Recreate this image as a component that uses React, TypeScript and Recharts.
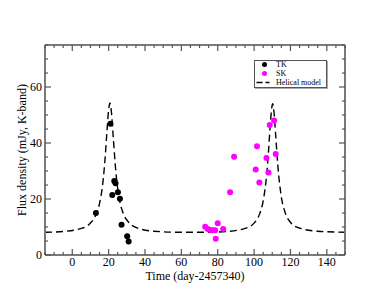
import { ComposedChart, XAxis, YAxis, Scatter, Line, Legend, Label } from "recharts";

// TK photometry (black)
const tkTime = [13.0, 21.0, 22.0, 23.1, 23.8, 25.1, 26.2, 27.1, 30.2, 31.0];
const tkFlux = [15.0, 46.9, 21.4, 26.4, 25.6, 22.4, 20.1, 10.8, 6.7, 4.8];

// SK photometry (magenta)
const skTime = [73.1, 74.5, 75.8, 77.3, 78.6, 78.9, 80.0, 83.0, 86.8, 89.0, 100.9, 101.6, 102.9, 106.8, 107.9, 108.6, 111.0, 111.9];
const skFlux = [10.1, 9.3, 8.9, 8.8, 8.8, 5.8, 11.3, 9.3, 22.4, 35.1, 30.5, 38.8, 25.9, 34.6, 29.5, 46.4, 48.0, 36.1];

// helical model curve
const modelTime = [-15, -5, 5, 10, 13, 15, 17, 18, 19, 20, 20.7, 21.5, 22.5, 24, 26, 28, 31, 36, 45, 60, 75, 85, 95, 100, 103, 105, 107, 108, 109, 110.2, 111, 112, 113, 115, 117, 120, 125, 135, 150];
const modelFlux = [8.1, 8.4, 9.5, 11.4, 14.3, 18.4, 26.9, 34.1, 43.4, 51.9, 54.3, 51.2, 42.4, 29.5, 19.6, 14.9, 11.7, 9.6, 8.5, 8.1, 8.1, 8.4, 9.5, 11.4, 14.6, 19.3, 29.3, 37.7, 47.5, 54.0, 50.7, 41.6, 32.4, 20.7, 15.3, 11.7, 9.6, 8.5, 8.1];

const xMajorTicks = [0, 20, 40, 60, 80, 100, 120, 140];
const xMinorTicks = [-15, -10, -5, 0, 5, 10, 15, 20, 25, 30, 35, 40, 45, 50, 55, 60, 65, 70, 75, 80, 85, 90, 95, 100, 105, 110, 115, 120, 125, 130, 135, 140, 145, 150];
const yMajorTicks = [0, 20, 40, 60];
const yMinorTicks = [0, 5, 10, 15, 20, 25, 30, 35, 40, 45, 50, 55, 60, 65, 70, 75];

const tkData = tkTime.map((x, i) => ({ x, y: tkFlux[i] }));
const skData = skTime.map((x, i) => ({ x, y: skFlux[i] }));
const modelData = modelTime.map((x, i) => ({ x, y: modelFlux[i] }));

const FONT = "'Liberation Serif', 'Times New Roman', serif";
const FRAME = "#7a7a7a";
const TICK = "#555";
const MAGENTA = "#ff00ff";
const X_DOMAIN = [-15, 150];
const Y_DOMAIN = [0, 75];
const GAP = 3; // tickMargin used on every axis, so the tick can find the frame edge
const MAJOR_LEN = 6;
const MINOR_LEN = 3;

// inward ticks drawn by hand: tickSize is 0, so label pos = edge +/- GAP
const makeTick = (side: "bottom" | "top" | "left" | "right", majors: number[], labelled: boolean) => (props: any) => {
  const { x, y, payload } = props;
  const major = majors.includes(payload.value);
  const len = major ? MAJOR_LEN : MINOR_LEN;
  let line;
  let label = null;
  if (side === "bottom") {
    const edge = y - GAP;
    line = <line x1={x} x2={x} y1={edge} y2={edge - len} stroke={TICK} strokeWidth={1.2} />;
    if (labelled && major)
      label = <text x={x} y={y} dy="0.66em" textAnchor="middle" fontSize={12} fontFamily={FONT} fill="#000">{payload.value}</text>;
  } else if (side === "top") {
    const edge = y + GAP;
    line = <line x1={x} x2={x} y1={edge} y2={edge + len} stroke={TICK} strokeWidth={1.2} />;
  } else if (side === "left") {
    const edge = x + GAP;
    line = <line x1={edge} x2={edge + len} y1={y} y2={y} stroke={TICK} strokeWidth={1.2} />;
    if (labelled && major)
      label = <text x={x} y={y} dy="0.35em" textAnchor="end" fontSize={12} fontFamily={FONT} fill="#000">{payload.value}</text>;
  } else {
    const edge = x - GAP;
    line = <line x1={edge} x2={edge - len} y1={y} y2={y} stroke={TICK} strokeWidth={1.2} />;
  }
  return <g>{line}{label}</g>;
};

const dotShape = (color: string) => (props: any) =>
  <circle cx={props.cx} cy={props.cy} r={3} fill={color} />;

const YTitle = (props: any) => {
  const { x, y, height } = props.viewBox;
  const cx = x + 22;
  const cy = y + height / 2;
  return (
    <text x={cx} y={cy} transform={`rotate(-90 ${cx} ${cy})`} textAnchor="middle" dominantBaseline="central"
      fontSize={12} fontFamily={FONT} fill="#000">
      Flux density (mJy, K-band)
    </text>
  );
};

const XTitle = (props: any) => {
  const { x, y, width } = props.viewBox;
  return (
    <text x={x + width / 2} y={y + 20.5} textAnchor="middle" dominantBaseline="central"
      fontSize={12} fontFamily={FONT} fill="#000">
      Time (day-2457340)
    </text>
  );
};

const legendItems = [
  { label: "TK", kind: "dot", color: "#000" },
  { label: "SK", kind: "dot", color: MAGENTA },
  { label: "Helical model", kind: "line", color: "#000" },
];

const LegendBox = () => (
  <div style={{ border: `1px solid #555`, boxShadow: "1px 1px 0 #aaa", background: "#fff", width: 71, height: 26 }}>
    <svg width={71} height={26} style={{ display: "block" }}>
      {legendItems.map((item, i) => {
        const cy = 3.5 + i * 9;
        return (
          <g key={item.label}>
            {item.kind === "dot" ? (
              <circle cx={9.5} cy={cy} r={2.5} fill={item.color} />
            ) : (
              <line x1={1.5} x2={14.5} y1={cy} y2={cy} stroke={item.color} strokeWidth={1.3} strokeDasharray="6 3" />
            )}
            <text x={21} y={cy} dominantBaseline="central" fontSize={8} fontFamily={FONT} fill="#000">
              {item.label}
            </text>
          </g>
        );
      })}
    </svg>
  </div>
);

const frameLine = { stroke: FRAME, strokeWidth: 2 };

export default function App() {
  return (
    <div style={{ position: "absolute", left: 0, top: 0, background: "#fff" }}>
      <ComposedChart width={388} height={300} margin={{ top: 44, right: 42, bottom: 0, left: 0 }}>
        <XAxis xAxisId="main" type="number" dataKey="x" domain={X_DOMAIN} allowDataOverflow ticks={xMinorTicks}
          interval={0} height={45} tickSize={0} tickMargin={GAP} axisLine={frameLine} tickLine={false}
          tick={makeTick("bottom", xMajorTicks, true)}>
          <Label content={XTitle} />
        </XAxis>
        <XAxis xAxisId="top" orientation="top" type="number" dataKey="x" domain={X_DOMAIN} allowDataOverflow
          ticks={xMinorTicks} interval={0} height={1} tickSize={0} tickMargin={GAP} axisLine={frameLine}
          tickLine={false} tick={makeTick("top", xMajorTicks, false)} />
        <YAxis yAxisId="main" type="number" domain={Y_DOMAIN} allowDataOverflow ticks={yMinorTicks} interval={0}
          width={45} tickSize={0} tickMargin={GAP} axisLine={frameLine} tickLine={false}
          tick={makeTick("left", yMajorTicks, true)}>
          <Label content={YTitle} />
        </YAxis>
        <YAxis yAxisId="right" orientation="right" type="number" domain={Y_DOMAIN} allowDataOverflow
          ticks={yMinorTicks} interval={0} width={1} tickSize={0} tickMargin={GAP} axisLine={frameLine}
          tickLine={false} tick={makeTick("right", yMajorTicks, false)} />

        <Line xAxisId="main" yAxisId="main" data={modelData} dataKey="y" name="Helical model" type="monotone"
          stroke="#000" strokeWidth={1.4} strokeDasharray="7 4" dot={false} activeDot={false}
          isAnimationActive={false} />
        <Scatter xAxisId="main" yAxisId="main" data={tkData} dataKey="y" name="TK" fill="#000"
          shape={dotShape("#000")} isAnimationActive={false} />
        <Scatter xAxisId="main" yAxisId="main" data={skData} dataKey="y" name="SK" fill={MAGENTA}
          shape={dotShape(MAGENTA)} isAnimationActive={false} />

        <Legend content={LegendBox} layout="horizontal" verticalAlign="middle" align="center"
          wrapperStyle={{ left: 254, top: 60, width: 73, height: 28 }} />
      </ComposedChart>
    </div>
  );
}
